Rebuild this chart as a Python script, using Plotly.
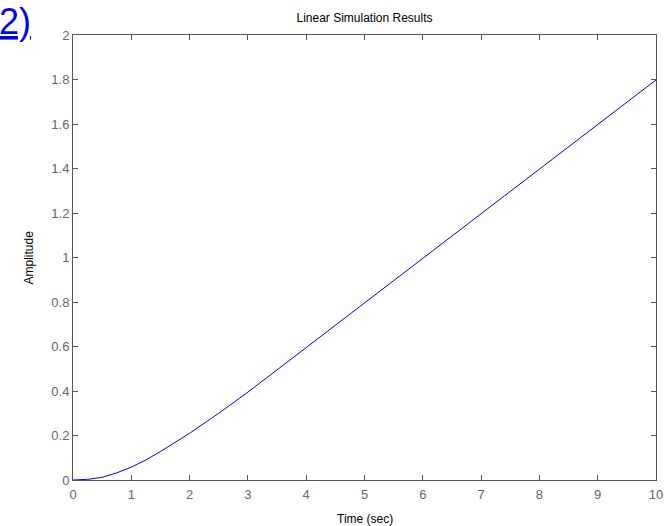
import plotly.graph_objects as go

time_s = [0, 0.25, 0.5, 0.75, 1.0, 1.25, 1.5, 1.75, 2.0, 2.5, 3.0, 3.5, 4.0, 4.5,
          5.0, 5.5, 6.0, 6.5, 7.0, 7.5, 8.0, 8.5, 9.0, 9.5, 10.0]
amplitude = [0, 0.003, 0.012, 0.032, 0.058, 0.09, 0.128, 0.168, 0.21, 0.3, 0.395,
             0.495, 0.595, 0.695, 0.795, 0.895, 0.995, 1.095, 1.195, 1.297, 1.397,
             1.497, 1.597, 1.698, 1.798]
x_ticks = [0, 1, 2, 3, 4, 5, 6, 7, 8, 9, 10]
y_ticks = [0, 0.2, 0.4, 0.6, 0.8, 1, 1.2, 1.4, 1.6, 1.8, 2]
y_tick_text = ["0", "0.2", "0.4", "0.6", "0.8", "1", "1.2", "1.4", "1.6", "1.8", "2"]

fig = go.Figure()
fig.add_trace(go.Scatter(x=time_s, y=amplitude, mode="lines",
                         line=dict(color="#0000ff", width=1), showlegend=False))

axis_common = dict(showgrid=False, zeroline=False, showline=True, linecolor="#555555",
                   linewidth=1, mirror="ticks", ticks="inside", ticklen=5, automargin=False,
                   tickcolor="#555555", tickfont=dict(family="Arial", size=13, color="#666666"))

fig.update_xaxes(range=[0, 10], tickvals=x_ticks, ticklabelstandoff=2, **axis_common)
fig.update_yaxes(range=[0, 2], tickvals=y_ticks, ticktext=y_tick_text, **axis_common)

pw, ph = 583, 445
fig.update_layout(
    width=670, height=526,
    margin=dict(l=73, r=14, t=35, b=46),
    paper_bgcolor="white", plot_bgcolor="white",
    title=dict(text="Linear Simulation Results", x=0.5, xanchor="center",
               xref="paper", y=1 - 18 / 526, yanchor="middle",
               font=dict(family="Arial", size=12, color="#000")),
    annotations=[
        dict(text="<u>2)</u>", xref="paper", yref="paper",
             x=(-3 - 73) / pw, y=(480 + 1) / ph, xanchor="left", yanchor="top",
             showarrow=False, font=dict(family="Arial", size=36, color="#0000ff")),
        dict(text="Time (sec)", xref="paper", yref="paper",
             x=0.5, y=(480 - 519) / ph, xanchor="center", yanchor="middle",
             showarrow=False, font=dict(family="Arial", size=12, color="#000")),
        dict(text="Amplitude", xref="paper", yref="paper", textangle=-90,
             x=(28 - 73) / pw, y=0.5, xanchor="center", yanchor="middle",
             showarrow=False, font=dict(family="Arial", size=12, color="#000")),
    ],
)

fig.write_html("out.html")
